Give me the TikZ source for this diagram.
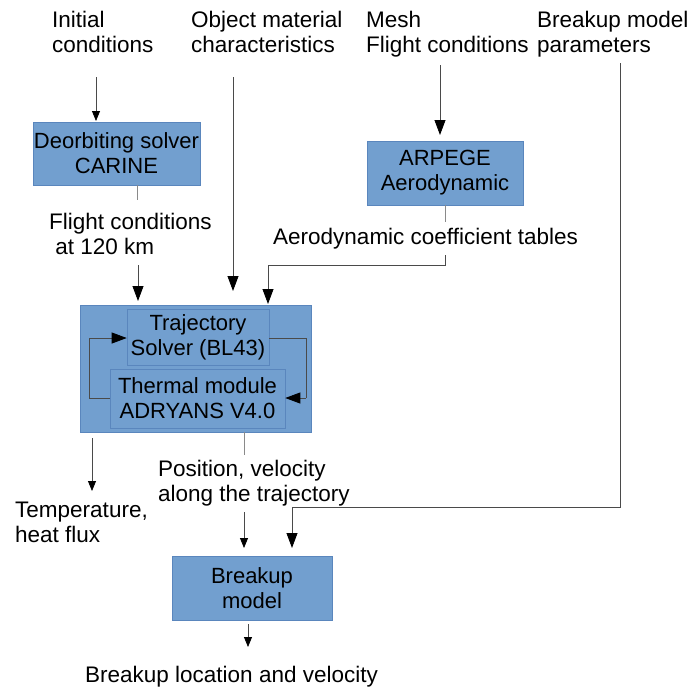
\documentclass[tikz,border=0pt]{standalone}
\usepackage{fontspec}
\setmainfont{Liberation Sans}
\usetikzlibrary{arrows.meta}
\definecolor{boxfill}{HTML}{729FCF}
\definecolor{boxline}{HTML}{5A86BD}
\definecolor{conn}{HTML}{4A4A4A}
\definecolor{stub}{HTML}{8A8A8A}
\begin{document}
\begin{tikzpicture}[x=1pt,y=-1pt,
  txt/.style={inner sep=0pt,align=left,font=\fontsize{22.5}{25}\selectfont,anchor=north west},
  blk/.style={draw=boxline,line width=0.6pt,fill=boxfill,inner sep=0pt,align=center,font=\fontsize{22}{25}\selectfont},
  conline/.style={draw=conn,line width=0.8pt},
  stubline/.style={draw=stub,line width=0.8pt},
  bigarr/.style={conline,-{Triangle[width=11pt,length=15pt,color=black]}},
  smallarr/.style={conline,-{Triangle[width=8pt,length=10pt,color=black]}}]
\useasboundingbox (0,0) rectangle (689,689);
% top inputs
\node[txt] (initc) at (52,11.4) {Initial\\conditions};
\node[txt] (objm) at (191,11.4) {Object material\\characteristics};
\node[txt] (mesh) at (366,11.4) {Mesh\\Flight conditions};
\node[txt] (bparam) at (537,11.4) {Breakup model\\parameters};
% boxes
\node[blk,minimum width=167pt,minimum height=63pt] (carine) at (116.5,153.5) {Deorbiting solver\\CARINE};
\node[blk,minimum width=156pt,minimum height=64pt] (arpege) at (445,173) {ARPEGE\\Aerodynamic};
\node[blk,minimum width=231pt,minimum height=127pt] (big) at (195.5,368.5) {};
\node[blk,minimum width=142pt,minimum height=56pt] (traj) at (198,337) {Trajectory\\Solver (BL43)};
\node[blk,minimum width=175pt,minimum height=59pt] (therm) at (197.5,398.5) {Thermal module\\ADRYANS V4.0};
\node[blk,minimum width=160pt,minimum height=64pt] (brk) at (252,588) {Breakup\\model};
% intermediate texts
\node[txt] (flc) at (49,213.4) {Flight conditions\\\ at 120 km};
\node[txt] (aero) at (273,228.4) {Aerodynamic coefficient tables};
\node[txt] (posv) at (158,460.4) {Position, velocity\\along the trajectory};
\node[txt] (temp) at (15,501.4) {Temperature,\\heat flux};
\node[txt] (brkout) at (85,666.4) {Breakup location and velocity};
% coordinates
\coordinate (c1) at (96,77);
\coordinate (c2) at (233,77);
\coordinate (c3) at (440,65);
\coordinate (c4) at (620,63);
\coordinate (c5) at (620,507);
\coordinate (c6) at (292,507);
\coordinate (c7) at (138,265);
\coordinate (c8) at (445,255);
\coordinate (c9) at (445,265);
\coordinate (c10) at (268,265);
\coordinate (c11) at (244,455);
\coordinate (c12) at (244,512);
\coordinate (c13) at (92,438);
\coordinate (c14) at (248,624);
\coordinate (lA) at (89,398);
\coordinate (lB) at (89,338);
\coordinate (rA) at (306,338);
\coordinate (rB) at (306,398);
% connectors
\draw[smallarr] (c1) -- (96,121);
\draw[bigarr] (c2) -- (233,291);
\draw[bigarr] (c3) -- (440,135);
\draw[bigarr] (c4) -- (c5) -- (c6) -- (292,548);
\draw[stubline] (carine.south -| 137,0) -- (137,200);
\draw[bigarr] (c7) -- (138,301);
\draw[stubline] (arpege.south) -- (445,222);
\draw[bigarr] (c8) -- (c9) -- (c10) -- (268,304);
\draw[conline] (therm.west |- lA) -- (lA) -- (lB);
\draw[bigarr] (lB) -- (traj.west |- lB);
\draw[conline] (traj.east |- rA) -- (rA) -- (rB);
\draw[bigarr] (rB) -- (therm.east |- rB);
\draw[stubline] (big.south -| c11) -- (c11);
\draw[smallarr] (c13) -- (92,491);
\draw[smallarr] (c12) -- (244,548);
\draw[smallarr] (c14) -- (248,647);
\end{tikzpicture}
\end{document}
